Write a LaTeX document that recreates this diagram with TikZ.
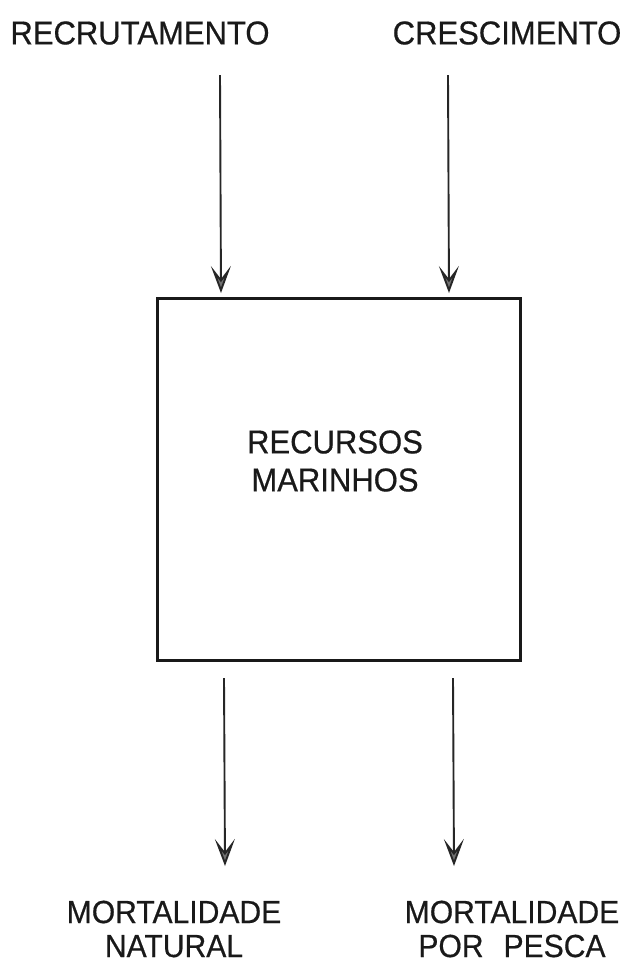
\documentclass[tikz,border=0pt]{standalone}
\usepackage{fontspec}
\setmainfont{Liberation Sans}[FakeStretch=0.94,FakeBold=0.5]
\usetikzlibrary{arrows.meta}
\begin{document}
\begin{tikzpicture}[x=1pt,y=-1pt,
  lbl/.style={inner sep=0pt,align=center,text=black!90,
    font=\fontsize{33}{36}\selectfont},
  flow/.style={line width=1.9pt,draw=black!85,
    -{Stealth[length=27pt,width=20pt,inset=13pt,fill=black!55]}},
  stock/.style={draw=black!90,line width=3pt,minimum width=363pt,minimum height=362pt,inner sep=0pt}]
\useasboundingbox (0,0) rectangle (628,962);
\fill[white] (0,0) rectangle (628,962);
\node[lbl] (rec) at (140,33) {RECRUTAMENTO};
\node[lbl] (cre) at (507,33) {CRESCIMENTO};
\node[stock] (box) at (338.5,479) {};
\node[lbl,font=\fontsize{33}{38}\selectfont] (res) at (335,461) {RECURSOS\\MARINHOS};
\node[lbl,font=\fontsize{32}{34}\selectfont] (mn) at (174,929) {MORTALIDADE\\NATURAL};
\node[lbl,font=\fontsize{32}{34}\selectfont] (mp) at (512,929) {MORTALIDADE\\POR\hspace{20pt}PESCA};
\coordinate (a1) at (220,75);
\coordinate (a2) at (448,75);
\coordinate (b1) at (224,678);
\coordinate (b2) at (453,678);
\coordinate (e1) at (221,293);
\coordinate (e2) at (449,293);
\coordinate (f1) at (225,866);
\coordinate (f2) at (454,866);
\draw[flow] (a1) -- (e1);
\draw[flow] (a2) -- (e2);
\draw[flow] (b1) -- (f1);
\draw[flow] (b2) -- (f2);
\end{tikzpicture}
\end{document}
